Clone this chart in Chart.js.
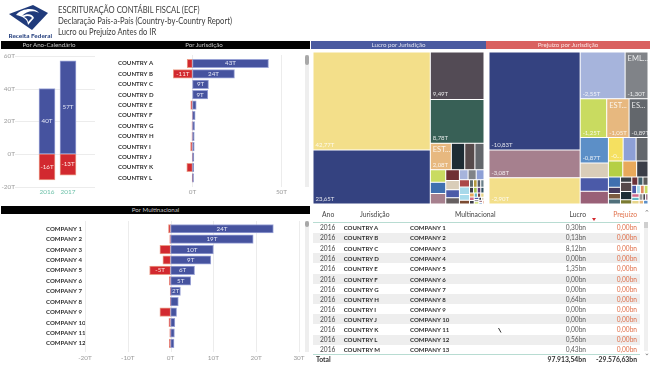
<!DOCTYPE html>
<html><head><meta charset="utf-8">
<script src="https://cdn.jsdelivr.net/npm/chart.js@4/dist/chart.umd.min.js"></script>
<style>
html,body{margin:0;padding:0;background:#fff;width:650px;height:381px;overflow:hidden}
body{position:relative;font-family:Lato,"Open Sans",sans-serif;color:#333}
#page{position:absolute;left:0;top:0;width:650px;height:381px;opacity:.995}
canvas{position:absolute;display:block}
.abs{position:absolute;white-space:nowrap}
.hbar{position:absolute;height:8px;line-height:8px;font-size:6.2px;text-align:center;color:#cfcfcf}
.title{position:absolute;left:58px;font-size:9.2px;line-height:11px;color:#3a3a3a;white-space:nowrap;transform:scaleX(.83);transform-origin:left center}
.cell{position:absolute;font-size:6.6px;line-height:9px;white-space:nowrap;color:#444}
.b{font-weight:700;color:#2f2f2f;font-size:6.1px}
</style></head><body>
<div id="page"></div>
<script>
const years=['2016','2017'];
const yearLucro=[40,57];
const yearPrejuizo=[-16,-13];
const yearTicks=[-20,0,20,40,60];

const countries=['COUNTRY A','COUNTRY B','COUNTRY C','COUNTRY D','COUNTRY E','COUNTRY F','COUNTRY G','COUNTRY H','COUNTRY I','COUNTRY J','COUNTRY K','COUNTRY L'];
const countryLucro=[42.7,23.6,9,8.6,2.1,1.5,1.2,1,1,.8,.7,.6];
const countryPrejuizo=[-3,-10.8,0,0,-1,-.2,-.3,-.3,-1.1,-.2,-3.2,-.2];
const countryTicks=[0,50];

const companies=['COMPANY 1','COMPANY 2','COMPANY 3','COMPANY 4','COMPANY 5','COMPANY 6','COMPANY 7','COMPANY 8','COMPANY 9','COMPANY 10','COMPANY 11','COMPANY 12'];
const companyLucro=[24,19.3,10,9.4,5.6,4.7,2.3,1.8,1.4,1,.9,.8];
const companyPrejuizo=[-.5,-.2,-2.5,-1.8,-4.9,-.3,-.1,-.05,-2.5,-.4,-.2,-.3];
const companyTicks=[-20,-10,0,10,20,30];

const lucroValues=[42.77,23.65,9.49,8.78,2.08,1.33,1,.9,.71,.66,.6,.54,.48,.4,.32,.32,.3,.29,.27,.28,.22,.14,.11,
 .1,.1,.09,.09,.08,.08,.07,.07,.06,.06,.05,.05,.05,.04,.04,.04,.03,.03,.03,.02,.02];
const lucroColors=['#f3df8a','#33417f','#524a54','#375f55','#e7b87e','#1c2b33','#55494a','#62666b','#c9db5f','#3f6fb0','#a67f8e','#6e2f32','#d9cdb9','#4a59a8','#655f60','#a6b4dc','#7f8388','#8ea0d6','#ab4646','#a7d9ea','#a8dcec','#7a4a30','#5f6a6a',
 '#b59a3e','#555a66','#6a7f8a','#3a3a44','#9fc24a','#5a3a7a','#2f4f5f','#e8a95a','#d06a8a','#3f3f46','#63b8c4','#7a3f3f','#e7d68a','#4a59a8','#9a9a9a','#c9db5f','#1c2b33','#d9cdb9','#a67f8e','#5b8fc7','#e08a60'];
const lucroValueLabels=['42,77T','23,65T','9,49T','8,78T','2,08T'];
const lucroNames=['','','','','EST...'];

const prejuizoValues=[10.83,3.08,2.9,2.55,1.3,1.25,1.05,.89,.87,.51,.46,.44,.42,.37,.34,.28,.27,.22,.15,.09,.08,.075,.07,
 .13,.11,.06,.06,.05,.05,.05,.04,.04,.04,.03,.03,.03,.03,.02,.02,.02,.02];
const prejuizoColors=['#33417f','#a67f8e','#f3df8a','#a6b4dc','#7f8388','#c9db5f','#e7b87e','#62666b','#5b8fc7','#d9cdb9','#4a59a8','#995f76','#f5e05f','#8ea0d6','#62666b','#b5cf44','#e8a95a','#3a3d47','#3f6fb0','#453a5e','#7a5a40','#4f6f7a','#3a4044',
 '#55494a','#1c2b33','#7a7a30','#6a3036','#3f5f6a','#5a5a5a','#4a59a8','#a8dcec','#e08a60','#c9db5f','#d06a8a','#63b8c4','#e7d68a','#9a9a9a','#3a3a44','#a67f8e','#e7b87e','#5b8fc7'];
const prejuizoValueLabels=['-10,83T','-3,08T','-2,90T','-2,55T','-1,30T','-1,25T','-1,05T','-0,89T','-0,87T','','','','-0...'];
const prejuizoNames=['','','','','EML...','','EST...','ES...'];

const tableYears=['2016','2016','2016','2016','2016','2016','2016','2016','2016','2016','2016','2016','2016'];
const tableCountries=['COUNTRY A','COUNTRY B','COUNTRY C','COUNTRY D','COUNTRY E','COUNTRY F','COUNTRY G','COUNTRY H','COUNTRY I','COUNTRY J','COUNTRY K','COUNTRY L','COUNTRY M'];
const tableCompanies=['COMPANY 1','COMPANY 2','COMPANY 3','COMPANY 4','COMPANY 5','COMPANY 6','COMPANY 7','COMPANY 8','COMPANY 9','COMPANY 10','COMPANY 11','COMPANY 12','COMPANY 13'];
const tableLucro=['0,30bn','0,13bn','8,12bn','0,00bn','1,35bn','0,00bn','0,00bn','0,64bn','0,00bn','0,00bn','0,00bn','0,56bn','0,43bn'];
const tablePrejuizo=['0,00bn','0,00bn','0,00bn','0,00bn','0,00bn','0,00bn','0,00bn','0,00bn','0,00bn','0,00bn','0,00bn','0,00bn','0,00bn'];
const tableTotalLucro='97.913,54bn';
const tableTotalPrejuizo='-29.576,63bn';

const FONT='Lato,"Open Sans",sans-serif';
const BLUE='#45529f',RED='#d2282e',BLUEB='#9aa3d6',REDB='#ea9a86';
const page=document.getElementById('page');
function el(tag,cls,css,html){const d=document.createElement(tag);if(cls)d.className=cls;if(css)d.style.cssText=css;if(html!=null)d.innerHTML=html;page.appendChild(d);return d;}

// header
el('div','title','top:3.5px','ESCRITURAÇÃO CONTÁBIL FISCAL (ECF)');
el('div','title','top:14.5px','Declaração País-a-País (Country-by-Country Report)');
el('div','title','top:25.5px','Lucro ou Prejuízo Antes do IR');
el('div','','position:absolute;left:8px;top:4px;width:42px;height:28px',
 '<svg width="42" height="28" viewBox="0 0 42 28"><path d="M1 10 L25 1 L40 9 L24 26 Z" fill="#1f3a7a"/><path d="M8 11 C14 4 27 3 31 9 C26 6 18 7 14 12 C19 9 25 10 26 14 L20 21 C20 15 14 12 8 11Z" fill="#fff"/><path d="M16 13 C19 11 23 12 24 14 L20 18 C20 15 18 14 16 13Z" fill="#1f3a7a"/></svg>');
el('div','abs','left:8.5px;top:31px;font-size:6.4px;line-height:9px;font-weight:700;color:#1f3a7a','Receita Federal');

// section bars
el('div','hbar','left:1px;top:41px;width:309px;background:#000');
el('div','abs','left:0;width:98px;top:41px;line-height:8px;font-size:6.2px;text-align:center;color:#c8c8c8','Por Ano-Calendário');
el('div','abs','left:150px;width:108px;top:41px;line-height:8px;font-size:6.2px;text-align:center;color:#c8c8c8','Por Jurisdição');
el('div','hbar','left:311px;top:41px;width:175px;background:#4a5aa0;color:#dfe2f0','Lucro por Jurisdição');
el('div','hbar','left:486px;top:41px;width:164px;background:#d9605f;color:#fbe3e3','Prejuízo por Jurisdição');
el('div','hbar','left:1px;top:206px;width:309px;background:#000;color:#c8c8c8','Por Multinacional');

// scrollbars
function scroll(x,y,h,t){el('div','','position:absolute;left:'+x+'px;top:'+y+'px;width:4px;height:'+h+'px;background:#eeeeee');
 el('div','','position:absolute;left:'+x+'px;top:'+y+'px;width:4px;height:'+t+'px;background:#a8a8a8;border-radius:2px');}
scroll(304.5,55,132,10);scroll(304.5,221,131,6);

// table
const COLX={ano:320,jur:343.7,mult:410,lucroR:64,prejR:13};
const rowY=[227.3,237.6,248,258,268.5,279,289.2,299.3,309.2,319.2,329.5,339.6,349.5];
tableYears.forEach((y,i)=>{
 if(i%2==1&&i<12) el('div','','position:absolute;left:313px;width:327px;top:'+(rowY[i]-5.1)+'px;height:10.2px;background:#eeeeee');
});
el('div','','position:absolute;left:313px;width:327px;top:222px;height:1px;background:#b8dcd2');
el('div','','position:absolute;left:313px;width:327px;top:354px;height:1.2px;background:#b8dcd2');
el('div','cell','left:322px;top:210px;font-size:6.8px','Ano');
el('div','cell','left:360px;top:210px;font-size:6.8px','Jurisdição');
el('div','cell','left:455px;top:210px;font-size:6.8px','Multinacional');
el('div','cell','right:64px;top:210px;font-size:6.8px','Lucro');
el('div','cell','right:13px;top:210px;font-size:6.8px;color:#e0704a','Prejuízo');
el('div','','position:absolute;left:592px;top:218px;width:0;height:0;border-left:2.5px solid transparent;border-right:2.5px solid transparent;border-top:3px solid #d2282e');
tableYears.forEach((y,i)=>{
 const t=rowY[i]-4.5;
 el('div','cell','left:'+COLX.ano+'px;top:'+t+'px',y);
 el('div','cell b','left:'+COLX.jur+'px;top:'+t+'px',tableCountries[i]);
 el('div','cell b','left:'+COLX.mult+'px;top:'+t+'px',tableCompanies[i]);
 el('div','cell','right:'+COLX.lucroR+'px;top:'+t+'px;color:#5a5a5a',tableLucro[i]);
 el('div','cell','right:'+COLX.prejR+'px;top:'+t+'px;color:#e0704a',tablePrejuizo[i]);
});
el('div','cell b','left:316px;top:355px;font-size:6.8px','Total');
el('div','cell b','right:64px;top:355px;font-size:6.8px',tableTotalLucro);
el('div','cell b','right:13px;top:355px;font-size:6.8px',tableTotalPrejuizo);
el('div','','position:absolute;left:498px;top:317px;width:4px;height:5px','<svg width="4" height="5"><path d="M.5 0 L3 4.5" stroke="#333" stroke-width="1" fill="none"/></svg>');
el('div','abs','left:644px;top:208px;font-size:7px;color:#777','&#x2303;');
el('div','abs','left:644px;top:348px;font-size:7px;color:#777;transform:scaleY(-1)','&#x2303;');
el('div','','position:absolute;left:644px;top:222px;width:4px;height:129px;background:#f0f0f0');
el('div','','position:absolute;left:644px;top:222px;width:4px;height:6px;background:#cfcfcf');

function makeCanvas(l,t,w,h){const c=el('canvas','','left:'+l+'px;top:'+t+'px;width:'+w+'px;height:'+h+'px');c.width=w;c.height=h;return c;}

// grid drawn through the scale, spanning past the category band
const gridSpan={id:'gridSpan',beforeDatasetsDraw(chart,args,o){
 const s=chart.scales[o.axis],ctx=chart.ctx;ctx.save();ctx.strokeStyle='#ececec';ctx.lineWidth=1;
 s.ticks.forEach(t=>{const p=Math.round(s.getPixelForValue(t.value))+.5;ctx.beginPath();
  if(o.axis==='x'){ctx.moveTo(p,o.from);ctx.lineTo(p,o.to);}else{ctx.moveTo(o.from,p);ctx.lineTo(o.to,p);}ctx.stroke();});
 ctx.restore();}};
// in-bar labels, shown only where the text fits
const barLabels={id:'barLabels',afterDatasetsDraw(chart){
 const ctx=chart.ctx,h=chart.options.indexAxis==='y';ctx.save();ctx.font='6.2px '+FONT;ctx.textAlign='center';ctx.textBaseline='middle';
 chart.data.datasets.forEach((d,di)=>{chart.getDatasetMeta(di).data.forEach((e,i)=>{
  const v=d.data[i],t=(v<0?'-':'')+Math.round(Math.abs(v))+'T';
  const size=h?Math.abs(e.x-e.base):Math.abs(e.y-e.base);
  if(Math.abs(Math.round(v))<1||(h&&ctx.measureText(t).width+2>size))return;
  ctx.fillStyle=v<0?'#ffe9e4':'#e6e9f7';
  if(h)ctx.fillText(t,(e.x+e.base)/2,e.y);else ctx.fillText(t,e.x,(e.y+e.base)/2);
 });});ctx.restore();}};

function barDs(label,data,bg,bd,th){return {label,data,backgroundColor:bg,borderColor:bd,borderWidth:1,borderSkipped:false,barThickness:th,stack:'s'};}
const base={responsive:false,animation:false,devicePixelRatio:1,plugins:{legend:{display:false},tooltip:{enabled:false}}};
const tick=(c,p)=>({color:c,font:{size:6.4,family:FONT},padding:p});
const noGrid={display:false,drawTicks:false};

// year chart
new Chart(makeCanvas(0,48,100,152),{type:'bar',plugins:[gridSpan,barLabels],
 data:{labels:years,datasets:[barDs('Lucro',yearLucro,BLUE,BLUEB,16),barDs('Prejuízo',yearPrejuizo,RED,REDB,16)]},
 options:{...base,layout:{padding:{top:8,right:21.5,left:0,bottom:0}},
  plugins:{...base.plugins,gridSpan:{axis:'y',from:15,to:95}},
  scales:{x:{stacked:true,grid:noGrid,border:{display:false},ticks:{...tick('#6cc0a8',2),maxRotation:0},afterFit:s=>{s.height=13.5}},
   y:{stacked:true,min:-20,max:60,afterBuildTicks:s=>{s.ticks=yearTicks.map(value=>({value}))},grid:noGrid,border:{display:false},
      ticks:{...tick('#9a9a9a',21.5),callback:v=>v+'T'},afterFit:s=>{s.width=36.5;s.paddingTop=0;s.paddingBottom=0}}}}});

// horizontal charts
function hbar(canvas,labels,a,b,tickVals,min,max,pad,gs,yw,xh,xp){
 return new Chart(canvas,{type:'bar',plugins:[gridSpan,barLabels],
 data:{labels,datasets:[barDs('Lucro',a,BLUE,BLUEB,8.5),barDs('Prejuízo',b,RED,REDB,8.5)]},
 options:{...base,indexAxis:'y',layout:{padding:pad},plugins:{...base.plugins,gridSpan:gs},
  scales:{x:{stacked:true,min,max,afterBuildTicks:s=>{s.ticks=tickVals.map(value=>({value}))},grid:noGrid,border:{display:false},
     ticks:{...tick('#9a9a9a',xp),maxRotation:0,callback:v=>v+'T'},afterFit:s=>{s.height=xh}},
   y:{stacked:true,grid:noGrid,border:{display:false},
     ticks:{color:'#2f2f2f',font:{size:6.1,weight:'700',family:FONT},crossAlign:'far',autoSkip:false,padding:0},afterFit:s=>{s.width=yw}}}}});
}
hbar(makeCanvas(118,50,190,150),countries,countryLucro,countryPrejuizo,countryTicks,-18.26,57.6,
 {top:8.3,right:13,left:0,bottom:0},{axis:'x',from:5,to:137},42,16.9,5);
hbar(makeCanvas(46,216,264,150),companies,companyLucro,companyPrejuizo,companyTicks,-20,30,
 {top:7.5,right:11,left:0,bottom:0},{axis:'x',from:5,to:136},39,17.4,5);

// treemap element built on Chart.js' BarElement, laid out by squarified value
class TreemapController extends Chart.DatasetController{
 update(mode){
  const meta=this._cachedMeta,ds=this.getDataset(),vals=ds.data,xs=meta.xScale,ys=meta.yScale;
  const W=xs.right-xs.left,H=ys.bottom-ys.top,boxes=[];
  let x0=0,y0=0,x1=W,y1=H,i=0,n=vals.length,remain=vals.reduce((a,b)=>a+b,0);
  const ratio=(1+Math.sqrt(5))/2;
  while(i<n){
   const dx=x1-x0,dy=y1-y0;let sum=vals[i],mn=sum,mx=sum,j=i+1;
   const alpha=Math.max(dy/dx,dx/dy)/(remain*ratio);
   let beta=sum*sum*alpha,best=Math.max(mx/beta,beta/mn);
   for(;j<n;j++){const v=vals[j],s2=sum+v,mn2=Math.min(mn,v),mx2=Math.max(mx,v);
    beta=s2*s2*alpha;const r=Math.max(mx2/beta,beta/mn2);if(r>best)break;best=r;sum=s2;mn=mn2;mx=mx2;}
   if(dx<dy){const h=dy*sum/remain;let x=x0;for(let k=i;k<j;k++){const w=dx*vals[k]/sum;boxes[k]=[x,y0,x+w,y0+h];x+=w;}y0+=h;}
   else{const w=dx*sum/remain;let y=y0;for(let k=i;k<j;k++){const h=dy*vals[k]/sum;boxes[k]=[x0,y,x0+w,y+h];y+=h;}x0+=w;}
   remain-=sum;i=j;
  }
  meta.data.forEach((e,k)=>{const b=boxes[k];
   const L=xs.getPixelForValue(b[0]/W),R=xs.getPixelForValue(b[2]/W),T=ys.getPixelForValue(b[1]/H),B=ys.getPixelForValue(b[3]/H);
   this.updateElement(e,k,{x:(L+R)/2,y:T,base:B,width:R-L,height:B-T,horizontal:false,inflateAmount:0,
     borderSkipped:{top:false,bottom:false,left:false,right:false},enableBorderRadius:false,
     options:this.resolveDataElementOptions(k,mode)},mode);
  });
 }
 draw(){super.draw();
  const ctx=this.chart.ctx,ds=this.getDataset(),meta=this._cachedMeta;ctx.save();ctx.textAlign='left';
  meta.data.forEach((e,k)=>{const L=e.x-e.width/2;
   const lab=(ds.valueLabels||[])[k],nm=(ds.names||[])[k];
   if(lab){ctx.font='6px '+FONT;ctx.fillStyle='rgba(255,255,255,.85)';ctx.textBaseline='alphabetic';ctx.fillText(lab,L+2.5,e.base-3);}
   if(nm){ctx.font='7.5px '+FONT;ctx.fillStyle='rgba(255,255,255,.85)';ctx.textBaseline='top';ctx.fillText(nm,L+2.5,e.y+3);}
  });ctx.restore();
 }
}
TreemapController.id='treemap';
TreemapController.defaults={dataElementType:'bar',datasetElementType:false};
Chart.register(TreemapController);

function treemap(canvas,names,values,colors,valueLabels,nm){
 return new Chart(canvas,{type:'treemap',
  data:{labels:values.map((v,i)=>String(i)),datasets:[{label:names,data:values,backgroundColor:colors,borderColor:'#ffffff',borderWidth:.5,borderSkipped:false,valueLabels,names:nm}]},
  options:{...base,layout:{padding:0},scales:{x:{type:'linear',min:0,max:1,display:false},y:{type:'linear',min:0,max:1,reverse:true,display:false}}}});
}
treemap(makeCanvas(313,52,171,152),'Lucro por Jurisdição',lucroValues,lucroColors,lucroValueLabels,lucroNames);
treemap(makeCanvas(489,52,159,152),'Prejuízo por Jurisdição',prejuizoValues,prejuizoColors,prejuizoValueLabels,prejuizoNames);
</script>
</body></html>
